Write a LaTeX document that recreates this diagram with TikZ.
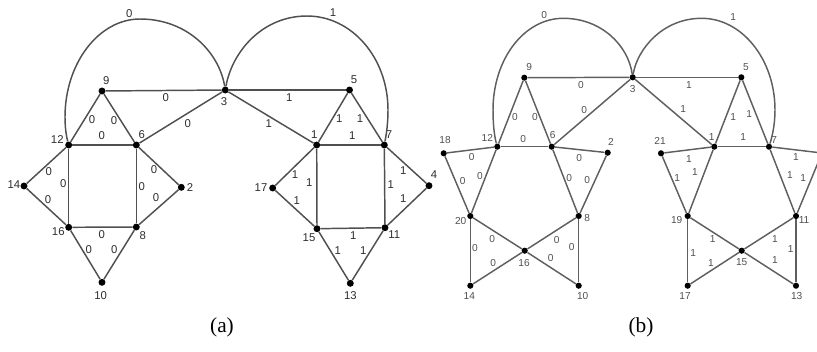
\documentclass[tikz,border=0pt]{standalone}
\usepackage{fontspec}
\setmainfont{Liberation Serif}
\newfontfamily\labfont{Liberation Sans}
\definecolor{linea}{RGB}{80,80,80}
\definecolor{lineb}{RGB}{95,95,95}
\definecolor{texta}{RGB}{45,45,45}
\definecolor{textb}{RGB}{80,80,80}
\tikzset{
  dota/.style={circle,fill=black,inner sep=0pt,minimum size=5.2pt},
  dotb/.style={circle,fill=black,inner sep=0pt,minimum size=4.6pt},
  laba/.style={inner sep=0pt,font=\labfont\fontsize{8.5}{9}\selectfont,text=texta},
  labb/.style={inner sep=0pt,font=\labfont\fontsize{7.6}{8}\selectfont,text=textb},
  edgea/.style={draw=linea,line width=1.1pt},
  edgeb/.style={draw=lineb,line width=1.1pt},
  captext/.style={inner sep=0pt,font=\fontsize{16}{18}\selectfont}
}
\begin{document}
\begin{tikzpicture}[x=0.75pt,y=-0.75pt]
\useasboundingbox (0,0) rectangle (817,351);
\clip (0,0) rectangle (817,351);
% ---------- panel (a) ----------
\foreach \n/\x/\y/\lx/\ly in {
  9/102/91/106.3/80.3, 3/225.3/90/224/101.7, 5/349.5/90/354/79.3,
  12/68.7/145/57.3/139.3, 6/136.3/145/141.7/134.3, 1/316.7/145/314.3/135,
  7/384.3/145/389/135, 14/24/186/14/185, 2/181.3/187.3/190/187.3,
  17/272.7/188/261/187.3, 4/429/185.7/434/174.3, 16/68.7/227.3/58.3/231.7,
  8/136.3/227/142.7/236, 15/317/228.7/309/237.3, 11/385/227.7/394.3/235,
  10/102/282.3/100.7/295.7, 13/350.3/283.3/350.3/295.7}{
  \node[dota] (a\n) at (\x,\y) {};
  \node[laba] (al\n) at (\lx,\ly) {\n};
}
\foreach \u/\v in {9/3,9/12,9/6,12/6,6/3,3/5,3/1,1/5,5/7,1/7,
  12/14,12/16,14/16,6/2,6/8,2/8,16/8,16/10,8/10,
  1/17,1/15,17/15,7/4,7/11,4/11,15/11,15/13,11/13}
  \draw[edgea] (a\u) -- (a\v);
\coordinate (aL1) at (65,117);
\coordinate (aL2) at (140,19);
\coordinate (aR1) at (307,16);
\coordinate (aR2) at (388,110);
\draw[edgea] (a12) .. controls (66,135) and (65,126) .. (aL1)
  .. controls (65,63) and (99,19) .. (aL2)
  .. controls (187,19) and (219,52) .. (a3);
\draw[edgea] (a3) .. controls (232,52) and (262,16) .. (aR1)
  .. controls (352,16) and (388,58) .. (aR2)
  .. controls (388,125) and (386,136) .. (a7);
\foreach \x/\y/\t [count=\i] in {
  165.7/98/0, 187.7/124/0, 92/120/0, 114/121/0, 101.7/136/0,
  48.7/172/0, 63.3/184/0, 48/200/0, 154/170/0, 141.7/186.7/0,
  156/198/0, 101.7/234.3/0, 88.7/250/0, 114.3/250/0, 129.3/14/0,
  289.3/97.7/1, 268.7/124/1, 339.3/119/1, 360/119/1, 352.3/135.7/1,
  403.3/171/1, 295/174.3/1, 309.3/182.3/1, 296.7/200.7/1, 390.7/185/1,
  403.3/199/1, 353.3/235.7/1, 337.7/250.7/1, 363.3/250.7/1, 333/13/1}
  \node[laba] (ea\i) at (\x,\y) {\t};
% ---------- panel (b) ----------
\foreach \n/\x/\y/\lx/\ly in {
  9/524.3/77.7/529.3/66.7, 3/632.7/77.3/632.7/89.3, 5/741.3/77.3/746/66.7,
  18/443.7/153.3/445/140, 12/497.3/146.7/487.3/137.7, 6/551.7/146.7/552.7/135,
  2/607.7/152.7/611/141.7, 21/661/153.3/660/140.7, 1/714.3/146.7/711.7/136.7,
  7/769/146.7/774.3/140.5, 20/470.3/216/460.7/221, 8/578.7/216/587.3/218.3,
  19/687.7/216/676.7/220, 11/796/216/804/220, 16/524.7/250.7/524/262.7,
  15/741.7/250.7/741.7/261.7, 14/470.3/285.7/469.3/295.7,
  10/578.7/285.7/582.7/295.7, 17/687.7/285.7/685/295.7,
  13/796/285.7/796.7/295.7}{
  \node[dotb] (b\n) at (\x,\y) {};
  \node[labb] (bl\n) at (\lx,\ly) {\n};
}
\node[dotb] (b4) at (822,153) {};
\foreach \u/\v in {9/3,9/12,9/6,12/6,6/3,12/18,18/20,12/20,6/2,2/8,6/8,
  20/16,20/14,14/16,16/8,16/10,8/10,
  3/5,3/1,1/5,5/7,1/7,1/21,21/19,1/19,7/4,4/11,7/11,
  19/15,19/17,17/15,15/11,15/13,11/13}
  \draw[edgeb] (b\u) -- (b\v);
\coordinate (bL1) at (493,110);
\coordinate (bL2) at (563.3,18.3);
\coordinate (bR1) at (701.7,18.3);
\coordinate (bR2) at (775,110);
\draw[edgeb] (b12) .. controls (494,135) and (493,122) .. (bL1)
  .. controls (493,59.4) and (524,18.3) .. (bL2)
  .. controls (601,18.3) and (628,45) .. (b3);
\draw[edgeb] (b3) .. controls (637,50) and (662,18.3) .. (bR1)
  .. controls (742,18.3) and (775,59.4) .. (bR2)
  .. controls (775,125) and (772,137) .. (b7);
\foreach \x/\y/\t [count=\i] in {
  581/85/0, 584.3/110/0, 515/116.7/0, 535/117.3/0, 523.3/139.3/0,
  471.7/156.7/0, 579.3/158/0, 462.7/181/0, 480/176/0, 569.3/177.7/0,
  587.3/180/0, 492.3/239.3/0, 475/248.3/0, 493.3/262.7/0, 556.7/240/0,
  571.7/247.3/0, 550.7/258.3/0, 544.3/15/0,
  689/85/1, 683.3/109/1, 733.3/116.7/1, 749.3/114.3/1, 743.3/137.3/1,
  689/159/1, 695/172.5/1, 677.3/178.3/1, 796/157.3/1, 790/175/1,
  803.3/178.3/1, 712.7/239.3/1, 693.3/253.3/1, 711/262.7/1, 775/239.3/1,
  790.7/249.3/1, 775/260/1, 733.3/17.3/1}
  \node[labb] (eb\i) at (\x,\y) {\t};
% ---------- captions ----------
\node[captext] (capa) at (222,327) {(a)};
\node[captext] (capb) at (641,327) {(b)};
\end{tikzpicture}
\end{document}
